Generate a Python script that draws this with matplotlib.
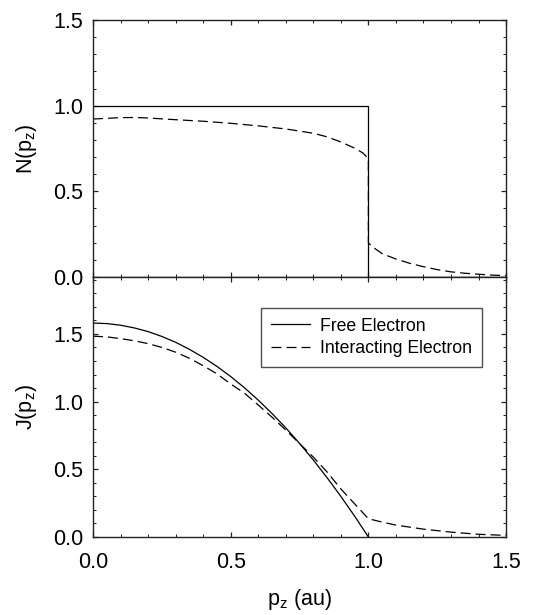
import matplotlib
matplotlib.use("Agg")
import matplotlib.pyplot as plt
from matplotlib.ticker import MultipleLocator

plt.rcParams['font.family'] = ['Liberation Sans', 'DejaVu Sans']
plt.rcParams['mathtext.fontset'] = 'custom'
plt.rcParams['mathtext.rm'] = 'Liberation Sans'
plt.rcParams['mathtext.it'] = 'Liberation Sans'

# Top panel: momentum density N(pz)
free_N_x = [0.0, 1.0, 1.0, 1.5]
free_N_y = [1.0, 1.0, 0.0, 0.0]
int_N_x = [0.0, 0.05, 0.1, 0.15, 0.2, 0.3, 0.4, 0.5, 0.6, 0.7, 0.8, 0.85, 0.9, 0.95, 0.98, 1.0,
           1.0, 1.02, 1.05, 1.1, 1.15, 1.2, 1.25, 1.3, 1.35, 1.4, 1.45, 1.5]
int_N_y = [0.922, 0.926, 0.93, 0.931, 0.928, 0.918, 0.909, 0.897, 0.882, 0.864, 0.839, 0.818, 0.788, 0.752, 0.724, 0.69,
           0.198, 0.17, 0.136, 0.105, 0.08, 0.06, 0.043, 0.03, 0.022, 0.016, 0.011, 0.008]

# Bottom panel: Compton profile J(pz)
free_J_x = [0.0, 0.05, 0.1, 0.15, 0.2, 0.25, 0.3, 0.35, 0.4, 0.45, 0.5, 0.55, 0.6, 0.65, 0.7,
            0.75, 0.8, 0.85, 0.9, 0.95, 1.0]
free_J_y = [1.58, 1.576, 1.564, 1.544, 1.517, 1.481, 1.438, 1.386, 1.327, 1.260, 1.185, 1.102, 1.011, 0.912, 0.806,
            0.691, 0.569, 0.438, 0.300, 0.154, 0.0]
int_J_x = [0.0, 0.05, 0.1, 0.15, 0.2, 0.25, 0.3, 0.35, 0.4, 0.45, 0.5, 0.55, 0.6, 0.65, 0.7,
           0.75, 0.8, 0.85, 0.9, 0.95, 1.0, 1.05, 1.1, 1.2, 1.3, 1.4, 1.5]
int_J_y = [1.483, 1.478, 1.465, 1.449, 1.428, 1.400, 1.365, 1.320, 1.265, 1.205, 1.13, 1.062, 0.975, 0.885, 0.79,
           0.69, 0.59, 0.48, 0.355, 0.245, 0.135, 0.11, 0.088, 0.058, 0.036, 0.02, 0.012]

fig = plt.figure(figsize=(5.39, 6.15), dpi=100)
ax1 = fig.add_axes([0.1725, 0.5496, 0.939 - 0.1725, 0.9675 - 0.5496])
ax2 = fig.add_axes([0.1725, 0.1268, 0.939 - 0.1725, 0.5496 - 0.1268])

lw = 0.9
dash = (8, 4)
ax1.plot(free_N_x, free_N_y, color='black', lw=lw)
ax1.plot(int_N_x, int_N_y, color='black', lw=lw, dashes=dash)
ax2.plot(free_J_x, free_J_y, color='black', lw=lw, label='Free Electron')
ax2.plot(int_J_x, int_J_y, color='black', lw=lw, dashes=dash, label='Interacting Electron')

for ax in (ax1, ax2):
    ax.set_xlim(0, 1.5)
    ax.xaxis.set_major_locator(MultipleLocator(0.5))
    ax.xaxis.set_minor_locator(MultipleLocator(0.1))
    ax.yaxis.set_major_locator(MultipleLocator(0.5))
    ax.yaxis.set_minor_locator(MultipleLocator(0.1))
    ax.tick_params(which='both', direction='in', top=True, right=True, labelsize=15.5, color='#222222')
    ax.tick_params(which='major', length=3.8, width=0.9)
    ax.tick_params(which='minor', length=2.2, width=0.7)
    ax.tick_params(axis='y', pad=7)
    for s in ax.spines.values():
        s.set_linewidth(1.0)
        s.set_color('#222222')

ax1.set_ylim(0, 1.5)
ax1.tick_params(labelbottom=False)
ax1.yaxis.set_major_formatter(plt.FormatStrFormatter('%.1f'))
ax1.set_ylabel(r'N(p$_z$)', fontsize=15.5, labelpad=10)

ax2.set_ylim(0, 1.92)
ax2.xaxis.set_major_formatter(plt.FormatStrFormatter('%.1f'))
ax2.yaxis.set_major_formatter(plt.FormatStrFormatter('%.1f'))
ax2.set_ylabel(r'J(p$_z$)', fontsize=15.5, labelpad=10)
ax2.set_xlabel(r'p$_z$ (au)', fontsize=15.5, labelpad=10)
ax2.tick_params(axis='x', pad=11)

leg = ax2.legend(loc='upper right', bbox_to_anchor=(0.942, 0.881), borderaxespad=0, fontsize=12.7,
                 frameon=True, fancybox=False, edgecolor='#222222', handlelength=2.2, borderpad=0.55,
                 labelspacing=0.3, handletextpad=0.6)
leg.get_frame().set_linewidth(1.0)

fig.savefig('out.png', dpi=100)
